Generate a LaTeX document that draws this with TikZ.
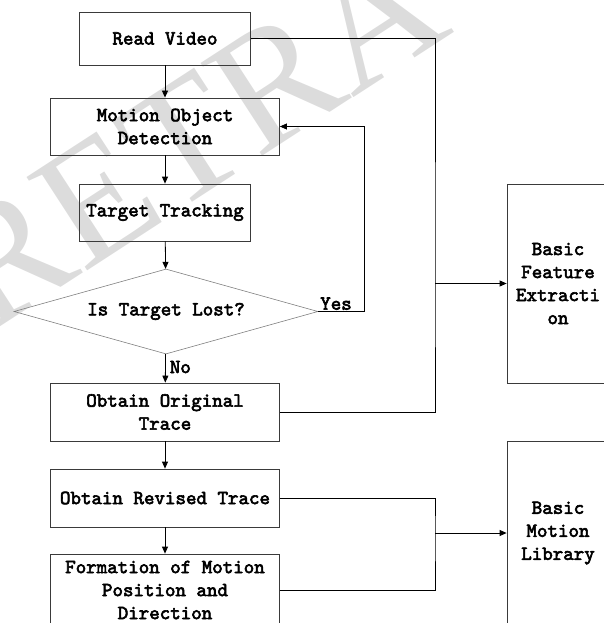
\documentclass[tikz,border=0pt]{standalone}
\usepackage{fontspec}
\newfontfamily\boxfont{lmmono10-regular.otf}[FakeBold=3]
\newfontfamily\wmfont{Liberation Serif}
\usetikzlibrary{shapes.geometric,arrows.meta,positioning}
\definecolor{edgegray}{HTML}{3A3A3A}
\definecolor{wmgray}{HTML}{DCDCDC}
\tikzset{
  box/.style={draw=edgegray, line width=0.8pt, align=center, inner sep=0pt,
    font=\boxfont\fontsize{20}{23}\selectfont},
  decision/.style={diamond, aspect=3.6, draw=gray, line width=0.6pt, inner sep=0pt,
    minimum width=304pt, minimum height=85pt, font=\boxfont\fontsize{20}{23}\selectfont},
  lbl/.style={inner sep=0pt, font=\boxfont\fontsize{20}{23}\selectfont},
  conn/.style={draw=black, line width=0.8pt},
  arr/.style={conn, -{Triangle[length=7pt,width=6pt]}},
}
\begin{document}
\begin{tikzpicture}[x=1pt,y=-1pt]
\useasboundingbox (0,0) rectangle (604,623);
\clip (0,0) rectangle (604,623);
% watermark
\node[text=wmgray, font=\wmfont\fontsize{170}{170}\selectfont, rotate=33, anchor=base west, inner sep=0pt] (wm) at (-12,335) {RETRA};
% boxes
\node[box, minimum width=171pt, minimum height=53pt] (rv) at (165,38.5) {Read Video};
\node[box, minimum width=229pt, minimum height=57pt] (mod) at (165,126.5) {Motion Object\\Detection};
\node[box, minimum width=171pt, minimum height=57pt] (tt) at (165,212.5) {Target Tracking};
\node[decision] (dia) at (166,311.5) {Is Target Lost?};
\node[box, minimum width=229pt, minimum height=58pt] (oot) at (165,412) {Obtain Original\\Trace};
\node[box, minimum width=229pt, minimum height=58pt] (ort) at (165,498) {Obtain Revised Trace};
\node[box, minimum width=229pt, minimum height=72pt] (form) at (165,590) {Formation of Motion\\Position and\\Direction};
\node[box, minimum width=102pt, minimum height=199pt] (bfe) at (558,283.5) {Basic\\Feature\\Extracti\\on};
\node[box, minimum width=102pt, minimum height=184pt] (bml) at (558,533) {Basic\\Motion\\Library};
% coordinates
\coordinate (fb) at (364,126.5);
\coordinate (j1) at (435,283.5);
\coordinate (j2) at (435,533);
% connectors
\draw[arr] (rv) -- (mod);
\draw[arr] (mod) -- (tt);
\draw[arr] (tt) -- (dia);
\draw[arr] (dia) -- node[lbl, right=4pt, pos=0.45] (no) {No} (oot);
\draw[arr] (oot) -- (ort);
\draw[arr] (ort) -- (form);
\draw[arr] (dia.east) -| (fb) -- (mod.east);
\node[lbl, anchor=south] (yes) at (336,310) {Yes};
\draw[conn] (rv.east) -| (j1) |- (oot.east);
\draw[arr] (j1) -- (bfe.west);
\draw[conn] (ort.east) -| (j2) |- (form.east);
\draw[arr] (j2) -- (bml.west);
\end{tikzpicture}
\end{document}
